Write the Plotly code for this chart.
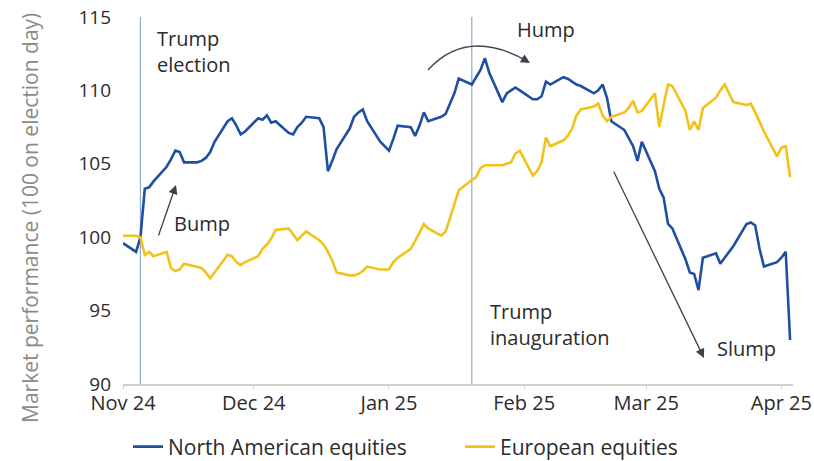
import pandas as pd
import plotly.graph_objects as go

# Trading days from 1 Nov 2024 to 3 Apr 2025
dates = pd.bdate_range("2024-11-01", "2025-04-03")

# Index levels, 100 = election day (5 Nov 2024)
north_america = [
    # Nov 24
    99.6, 99.0, 100.0, 103.3, 103.4, 103.8,
    104.8, 105.3, 105.9, 105.8, 105.1,
    105.1, 105.2, 105.4, 105.8, 106.5,
    107.9, 108.1, 107.6, 107.0, 107.2,
    # Dec 24
    108.1, 108.0, 108.3, 107.8, 107.9,
    107.1, 107.0, 107.5, 107.8, 108.2,
    108.1, 107.5, 104.5, 105.2, 106.0,
    107.4, 108.2, 108.5, 108.7, 107.9,
    106.5, 106.2,
    # Jan 25
    105.9, 106.7, 107.6,
    107.5, 106.9, 107.6, 108.5, 107.9,
    108.2, 108.4, 109.1, 109.8, 110.8,
    110.4, 110.9, 111.4, 112.2, 111.2,
    109.2, 109.8, 110.0, 110.2, 110.0,
    # Feb 25
    109.4, 109.4, 109.6, 110.6, 110.4,
    110.9, 110.8, 110.6, 110.4, 110.3,
    109.8, 110.0, 110.4, 109.5, 107.9,
    107.3, 106.7, 106.2, 105.2, 106.5,
    # Mar 25
    104.5, 103.3, 102.7, 100.9, 100.6,
    98.5, 97.6, 97.5, 96.4, 98.6,
    98.9, 98.2, 98.6, 99.0, 99.4,
    100.9, 101.0, 100.8, 99.2, 98.0,
    98.3,
    # Apr 25
    98.6, 99.0, 93.0,
]

europe = [
    # Nov 24
    100.1, 100.1, 100.0, 98.8, 99.0, 98.7,
    99.0, 97.9, 97.7, 97.8, 98.2,
    98.0, 97.9, 97.6, 97.2, 97.6,
    98.8, 98.7, 98.3, 98.1, 98.3,
    # Dec 24
    98.7, 99.2, 99.5, 99.9, 100.5,
    100.6, 100.2, 99.8, 100.1, 100.4,
    99.8, 99.5, 99.0, 98.4, 97.6,
    97.4, 97.4, 97.5, 97.7, 98.0,
    97.8, 97.8,
    # Jan 25
    97.8, 98.3, 98.6,
    99.2, 99.7, 100.3, 100.9, 100.6,
    100.1, 100.4, 101.3, 102.3, 103.2,
    103.9, 104.1, 104.7, 104.9, 104.9,
    104.9, 105.0, 105.1, 105.7, 105.9,
    # Feb 25
    104.2, 104.5, 105.1, 106.8, 106.2,
    106.6, 106.9, 107.4, 108.3, 108.7,
    108.9, 109.1, 108.3, 107.9, 108.2,
    108.5, 108.8, 109.3, 108.5, 108.6,
    # Mar 25
    109.8, 107.5, 109.0, 110.4, 110.3,
    108.6, 107.3, 107.9, 107.3, 108.8,
    109.5, 110.0, 110.4, 109.8, 109.2,
    109.0, 109.1, 108.5, 107.8, 107.2,
    105.5,
    # Apr 25
    106.1, 106.2, 104.1,
]

series_names = ["North American equities", "European equities"]
series_colors = ["#1f4fa0", "#f2c21c"]

FONT = "Open Sans"
TEXT = "#2b2b2b"
ARROW = "#3d4150"

W, H = 814, 461
L, R, T, B = 123, 21, 17, 77
PW, PH = W - L - R, H - T - B


def px(x):
    return (x - L) / PW


def py(y):
    return (H - B - y) / PH


fig = go.Figure()
for i, (name, vals, col) in enumerate(zip(series_names, [north_america, europe], series_colors)):
    fig.add_trace(go.Scatter(
        x=dates, y=vals, mode="lines", name=name,
        line=dict(color=col, width=2.6),
        legend="legend" if i == 0 else "legend2",
    ))

# Event markers
for d in ["2024-11-05", "2025-01-20"]:
    fig.add_shape(type="line", xref="x", yref="paper", x0=d, x1=d, y0=0, y1=1,
                  line=dict(color="#8eaacb", width=1.2), layer="below")

# Curved arrow over the January peak
fig.add_shape(
    type="path", xref="paper", yref="paper",
    path=f"M {px(428)},{py(70)} Q {px(467)},{py(27)} {px(527)},{py(61)}",
    line=dict(color=ARROW, width=1.3),
)

labels = [
    ("Trump<br>election", 155, 51),
    ("Trump<br>inauguration", 488, 324),
    ("Hump", 515, 30), ("Bump", 172, 223), ("Slump", 715, 348),
]
annotations = [
    dict(text=t, x=px(x), y=py(y), xref="paper", yref="paper",
         xanchor="left", yanchor="middle", align="left", showarrow=False,
         font=dict(family=FONT, size=20, color=TEXT))
    for t, x, y in labels
]

# Straight arrows: (head x, head y, tail dx, tail dy)
for hx, hy, dx, dy in [(176, 185, -18, 52), (704, 358, -91, -188), (530, 63, -10, -6)]:
    annotations.append(dict(
        text="", x=px(hx), y=py(hy), xref="paper", yref="paper",
        showarrow=True, ax=dx, ay=dy, axref="pixel", ayref="pixel",
        arrowhead=2, arrowsize=1.4, arrowwidth=1.3, arrowcolor=ARROW,
    ))

annotations.append(dict(
    text="Market performance (100 on election day)",
    x=px(30), y=py(218), xref="paper", yref="paper", textangle=-90,
    showarrow=False, xanchor="center", yanchor="middle",
    font=dict(family=FONT, size=21, color="#8a8a8a"),
))

legend_style = dict(
    orientation="h", xanchor="left", yanchor="middle",
    font=dict(family=FONT, size=21, color=TEXT),
    bgcolor="rgba(0,0,0,0)", borderwidth=0,
)

fig.update_layout(
    width=W, height=H,
    margin=dict(l=L, r=R, t=T, b=B, pad=0, autoexpand=False),
    plot_bgcolor="white", paper_bgcolor="white",
    font=dict(family=FONT, color=TEXT),
    annotations=annotations,
    showlegend=True,
    legend=dict(x=px(128), y=py(447), **legend_style),
    legend2=dict(x=px(460), y=py(447), **legend_style),
    xaxis=dict(
        type="date", range=["2024-11-01", "2025-04-03 16:00"],
        tick0="2024-11-01", dtick="M1", tickformat="%b %y",
        showgrid=False, zeroline=False,
        showline=True, linecolor="#cfcfcf", linewidth=1.5,
        ticks="outside", ticklen=3, tickcolor="#cfcfcf",
        ticklabelstandoff=-3,
        tickfont=dict(family=FONT, size=20, color=TEXT),
    ),
    yaxis=dict(
        range=[90, 115], dtick=5, showgrid=False, zeroline=False,
        showline=False, ticks="", ticklabelstandoff=11,
        tickfont=dict(family=FONT, size=19, color=TEXT),
    ),
)

fig.write_html("out.html")
